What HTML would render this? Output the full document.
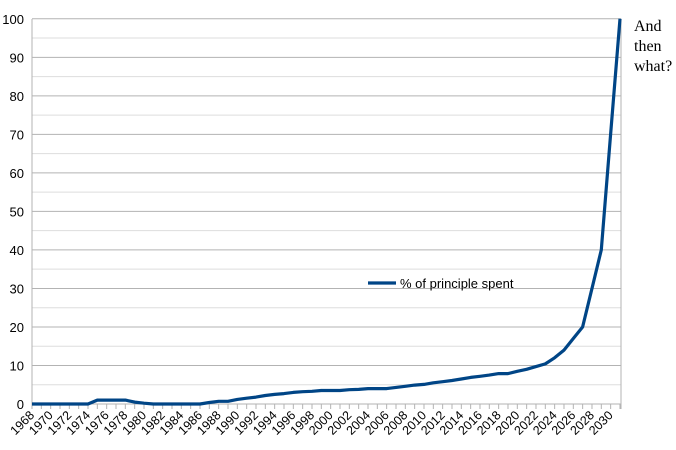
<!DOCTYPE html>
<html><head><style>body{margin:0;background:#fff}svg{display:block}</style></head><body>
<svg width="676" height="450" xmlns="http://www.w3.org/2000/svg" font-family="Liberation Sans, sans-serif">
<g id="grid"></g>
<g id="axis"></g>
<polyline id="line" fill="none" stroke="#004586" stroke-width="3.2" stroke-linejoin="round"/>
<line x1="368" y1="283" x2="396" y2="283" stroke="#004586" stroke-width="3.2"/>
<text x="400" y="288" font-size="13" fill="#000">% of principle spent</text>
<text font-family="Liberation Serif, serif" font-size="16" fill="#000"><tspan x="634" y="31">And</tspan><tspan x="634" y="51">then</tspan><tspan x="634" y="71">what?</tspan></text>
<script>
var ns="http://www.w3.org/2000/svg";
function el(p,t,a,txt){var e=document.createElementNS(ns,t);for(var k in a)e.setAttribute(k,a[k]);if(txt!=null)e.textContent=txt;document.getElementById(p).appendChild(e);return e;}
var x0=32,dx=9.333,y0=404,sy=3.852;
for(var v=5;v<=100;v+=5){var y=y0-v*sy;el("grid","line",{x1:x0,x2:621,y1:y,y2:y,stroke:v%10?"#dddddd":"#b3b3b3","stroke-width":1});}
el("axis","line",{x1:x0,x2:x0,y1:19,y2:409,stroke:"#b3b3b3"});
el("axis","line",{x1:621,x2:621,y1:19,y2:409,stroke:"#b3b3b3"});
el("axis","line",{x1:x0,x2:621,y1:y0,y2:y0,stroke:"#b3b3b3"});
for(var v=0;v<=100;v+=10){el("axis","text",{x:24,y:y0-v*sy+5,"text-anchor":"end","font-size":13,fill:"#000"},v);}
for(var i=0;i<64;i++){var x=x0+i*dx;el("axis","line",{x1:x,x2:x,y1:y0,y2:409,stroke:"#b3b3b3"});
if(i%2==0&&i<63){el("axis","text",{x:x+3,y:416,"text-anchor":"end","font-size":12.5,fill:"#000",transform:"rotate(-45 "+(x+3)+" 416)"},1968+i);}}
var d=[0,0,0,0,0,0,0,1,1,1,1,0.5,0.2,0,0,0,0,0,0,0.4,0.7,0.7,1.2,1.5,1.8,2.2,2.5,2.7,3,3.2,3.3,3.5,3.5,3.5,3.7,3.8,4,4,4,4.3,4.6,4.9,5.1,5.5,5.8,6.1,6.5,6.9,7.2,7.5,7.9,7.9,8.5,9,9.7,10.4,12,14,17,20,30,40,70,100];
var pts=d.map(function(v,i){return (x0+i*dx).toFixed(1)+","+(y0-v*sy).toFixed(1)}).join(" ");
document.getElementById("line").setAttribute("points",pts);
</script>
</svg>
</body></html>
